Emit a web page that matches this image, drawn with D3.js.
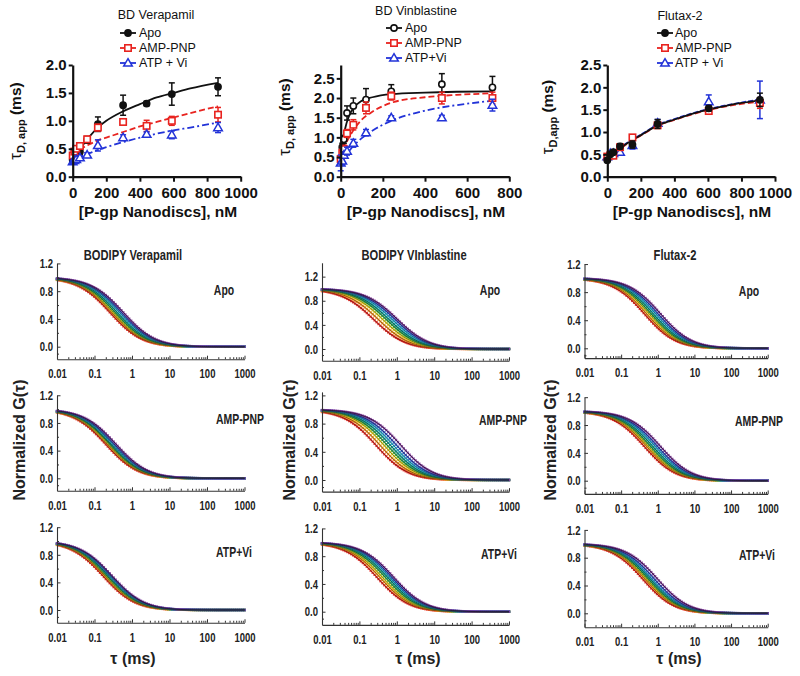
<!DOCTYPE html>
<html><head><meta charset="utf-8">
<script src="https://cdn.jsdelivr.net/npm/d3@7"></script>
<style>body{margin:0;background:#fff}svg{display:block}</style>
</head><body>
<svg id="c" width="800" height="676"></svg>
<script>
// ---------------- DATA: top binding panels ----------------
const verConc   = [0, 10, 21, 43, 86, 150, 300, 440, 590, 865];
const verApo    = [0.30, 0.34, 0.38, 0.45, 0.66, 0.94, 1.28, 1.31, 1.48, 1.61];
const verApoErr = [0.03, 0.03, 0.04, 0.05, 0.06, 0.13, 0.18, 0.04, 0.20, 0.16];
const verAmp    = [0.38, 0.45, 0.50, 0.55, 0.67, 0.88, 0.98, 0.91, 1.00, 1.11];
const verAmpErr = [0.03, 0.03, 0.04, 0.04, 0.05, 0.06, 0.05, 0.10, 0.08, 0.13];
const verAtp    = [0.27, 0.29, 0.31, 0.34, 0.39, 0.56, 0.70, 0.76, 0.75, 0.88];
const verAtpErr = [0.02, 0.03, 0.03, 0.03, 0.04, 0.10, 0.05, 0.04, 0.07, 0.09];
const verFitX   = [0, 50, 100, 150, 200, 300, 400, 500, 600, 700, 865];
const verApoFit = [0.30, 0.52, 0.72, 0.88, 1.00, 1.17, 1.30, 1.42, 1.50, 1.58, 1.68];
const verAmpFit = [0.38, 0.50, 0.58, 0.65, 0.70, 0.80, 0.90, 0.98, 1.06, 1.14, 1.26];
const verAtpFit = [0.27, 0.36, 0.42, 0.48, 0.53, 0.62, 0.70, 0.77, 0.83, 0.88, 0.97];

const vinConc   = [0, 7.5, 15, 30, 60, 120, 240, 480, 720];
const vinApo    = [0.45, 0.75, 0.95, 1.62, 1.80, 1.96, 2.17, 2.35, 2.27];
const vinApoErr = [0.05, 0.10, 0.10, 0.18, 0.20, 0.28, 0.17, 0.27, 0.28];
const vinAmp    = [0.45, 0.60, 0.70, 1.10, 1.32, 1.75, 2.05, 2.00, 2.00];
const vinAmpErr = [0.05, 0.10, 0.10, 0.10, 0.13, 0.15, 0.10, 0.15, 0.15];
const vinAtp    = [0.35, 0.40, 0.55, 0.65, 0.85, 1.12, 1.50, 1.50, 1.82];
const vinAtpErr = [0.20, 0.10, 0.08, 0.10, 0.10, 0.08, 0.05, 0.06, 0.15];
const vinFitX   = [0, 10, 20, 40, 60, 100, 150, 240, 400, 550, 720];
const vinApoFit = [0.45, 0.90, 1.20, 1.55, 1.74, 1.93, 2.02, 2.10, 2.14, 2.16, 2.17];
const vinAmpFit = [0.45, 0.62, 0.78, 1.00, 1.18, 1.45, 1.65, 1.88, 2.02, 2.08, 2.12];
const vinAtpFit = [0.35, 0.42, 0.50, 0.65, 0.78, 0.98, 1.17, 1.42, 1.68, 1.82, 1.93];

const fluConc   = [0, 18, 36, 76, 150, 300, 605, 910];
const fluApo    = [0.37, 0.50, 0.55, 0.68, 0.72, 1.18, 1.53, 1.72];
const fluApoErr = [0.03, 0.03, 0.04, 0.06, 0.08, 0.10, 0.06, 0.15];
const fluAmp    = [0.45, 0.48, 0.47, 0.66, 0.88, 1.15, 1.47, 1.65];
const fluAmpErr = [0.05, 0.05, 0.04, 0.05, 0.06, 0.06, 0.05, 0.12];
const fluAtp    = [0.45, 0.52, 0.52, 0.55, 0.70, 1.20, 1.68, 1.72];
const fluAtpErr = [0.05, 0.05, 0.05, 0.05, 0.08, 0.08, 0.15, 0.42];
const fluFitX   = [0, 50, 100, 150, 200, 300, 400, 500, 600, 700, 800, 910];
const fluApoFit = [0.42, 0.58, 0.70, 0.82, 0.93, 1.15, 1.28, 1.40, 1.50, 1.58, 1.65, 1.71];
const fluAmpFit = [0.42, 0.57, 0.69, 0.81, 0.92, 1.14, 1.27, 1.39, 1.49, 1.57, 1.63, 1.68];
const fluAtpFit = [0.42, 0.58, 0.71, 0.83, 0.94, 1.16, 1.29, 1.41, 1.51, 1.59, 1.66, 1.73];

const verLegend = ["Apo", "AMP-PNP", "ATP + Vi"];
const vinLegend = ["Apo", "AMP-PNP", "ATP+Vi"];
const fluLegend = ["Apo", "AMP-PNP", "ATP + Vi"];
const topTitles = ["BD Verapamil", "BD Vinblastine", "Flutax-2"];

// ---------------- DATA: FCS panels (diffusion times, ms, fast -> slow) ----------------
const fcsColTitles = ["BODIPY Verapamil", "BODIPY VInblastine", "Flutax-2"];
const fcsRowLabels = ["Apo", "AMP-PNP", "ATP+Vi"];
const tauVerApo = [0.26, 0.29, 0.32, 0.36, 0.41, 0.47, 0.53, 0.60];
const tauVerAmp = [0.20, 0.22, 0.24, 0.26, 0.28, 0.31, 0.34, 0.38];
const tauVerAtp = [0.17, 0.19, 0.20, 0.22, 0.24, 0.26, 0.28, 0.30];
const tauVinApo = [0.24, 0.32, 0.42, 0.52, 0.62, 0.75, 0.90, 1.05];
const tauVinAmp = [0.28, 0.36, 0.46, 0.56, 0.68, 0.82, 1.00, 1.30];
const tauVinAtp = [0.30, 0.36, 0.42, 0.50, 0.58, 0.66, 0.75, 0.85];
const tauFluApo = [0.43, 0.50, 0.58, 0.66, 0.76, 0.88, 1.02, 1.20];
const tauFluAmp = [0.43, 0.50, 0.56, 0.64, 0.74, 0.86, 1.00, 1.20];
const tauFluAtp = [0.39, 0.45, 0.50, 0.56, 0.63, 0.70, 0.82, 1.00];
const fcsXTicks = [0.01, 0.1, 1, 10, 100, 1000];
const fcsYTicks = [0, 0.4, 0.8, 1.2];

// ---------------- styles / layout ----------------
const FONT = "'Liberation Sans', Arial, Helvetica, sans-serif";
const SQ = 0.72; // horizontal squeeze for the condensed lettering of the lower panels
const BLACK = "#111", RED = "#e8231f", BLUE = "#2233d8";
const fcsColors = ["#e5261f", "#ef8c1b", "#e3d11e", "#33a647", "#14998a", "#2bb2d9", "#3150c0", "#83389b"];

const svg = d3.select("#c");

function drawMarker(g, type, cx, cy, color, filled) {
  if (type === "circle") {
    g.append("circle").attr("cx", cx).attr("cy", cy).attr("r", 3.1)
      .attr("fill", filled ? color : "#fff").attr("stroke", color).attr("stroke-width", 1.6);
  } else if (type === "square") {
    g.append("rect").attr("x", cx - 3.2).attr("y", cy - 3.2).attr("width", 6.4).attr("height", 6.4)
      .attr("fill", "#fff").attr("stroke", color).attr("stroke-width", 1.6);
  } else {
    g.append("path").attr("transform", `translate(${cx},${cy + 0.6})`)
      .attr("d", d3.symbol().type(d3.symbolTriangle).size(32)())
      .attr("fill", "#fff").attr("stroke", color).attr("stroke-width", 1.5);
  }
}

function topPanel(cfg) {
  const g = svg.append("g");
  const x = d3.scaleLinear().domain([0, cfg.xmax]).range(cfg.xr);
  const y = d3.scaleLinear().domain([0, cfg.ymax]).range(cfg.yr);
  const drawOrder = cfg.drawOrder || cfg.series.map((d, i) => i);

  // fits
  drawOrder.forEach(k => {
    const s = cfg.series[k];
    const line = d3.line().x((d, i) => x(s.fitX[i])).y(d => y(d)).curve(d3.curveMonotoneX);
    g.append("path").attr("d", line(s.fit)).attr("fill", "none").attr("stroke", s.color)
      .attr("stroke-width", 1.8).attr("stroke-dasharray", s.dash || null);
  });
  // error bars + markers
  drawOrder.forEach(k => {
    const s = cfg.series[k];
    s.vals.forEach((v, i) => {
      const cx = x(s.conc[i]), e = s.err[i];
      g.append("line").attr("x1", cx).attr("x2", cx).attr("y1", y(v - e)).attr("y2", y(v + e))
        .attr("stroke", s.color).attr("stroke-width", 1.5);
      [v - e, v + e].forEach(vv => g.append("line").attr("x1", cx - 3).attr("x2", cx + 3)
        .attr("y1", y(vv)).attr("y2", y(vv)).attr("stroke", s.color).attr("stroke-width", 1.5));
      drawMarker(g, s.marker, cx, y(v), s.color, s.filled);
    });
  });

  // axes
  const ax = g.append("g").attr("transform", `translate(0,${cfg.yr[0]})`)
    .call(d3.axisBottom(x).tickValues(cfg.xTicks).tickSize(5).tickSizeOuter(0).tickPadding(5.5).tickFormat(d3.format("d")));
  const ay = g.append("g").attr("transform", `translate(${cfg.xr[0]},0)`)
    .call(d3.axisLeft(y).tickValues(cfg.yTicks).tickSize(4).tickSizeOuter(0).tickPadding(2).tickFormat(d3.format(".1f")));
  [ax, ay].forEach(a => {
    a.select(".domain").attr("stroke", BLACK).attr("stroke-width", 2.2);
    a.selectAll(".tick line").attr("stroke", BLACK).attr("stroke-width", 2);
    a.selectAll("text").attr("font-family", FONT).attr("font-size", 15).attr("font-weight", "bold").attr("fill", BLACK);
  });

  // x title
  g.append("text").attr("x", cfg.xTitleX).attr("y", 217).attr("text-anchor", "middle")
    .attr("font-family", FONT).attr("font-size", 15.5).attr("font-weight", "bold").attr("fill", BLACK)
    .text("[P-gp Nanodiscs], nM");
  // y title
  const yt = g.append("text").attr("transform", `translate(${cfg.yTitleX},${cfg.yTitleY}) rotate(-90)`)
    .attr("text-anchor", "middle").attr("font-family", FONT).attr("fill", BLACK);
  yt.append("tspan").attr("font-size", 17).text("\u03C4");
  yt.append("tspan").attr("font-size", 11).attr("font-weight", "bold").attr("dy", 4).text(cfg.sub);
  yt.append("tspan").attr("font-size", 15.5).attr("font-weight", "bold").attr("dy", -4).text(" (ms)");

  // legend
  g.append("text").attr("x", cfg.leg.titleX).attr("y", cfg.leg.titleY).attr("text-anchor", "middle")
    .attr("font-family", FONT).attr("font-size", 12.5).attr("fill", BLACK).text(cfg.leg.title);
  cfg.series.forEach((s, i) => {
    const ly = cfg.leg.ys[i];
    g.append("line").attr("x1", cfg.leg.mx - 8).attr("x2", cfg.leg.mx + 8).attr("y1", ly - 4).attr("y2", ly - 4)
      .attr("stroke", s.color).attr("stroke-width", 1.8);
    drawMarker(g, s.marker, cfg.leg.mx, ly - 4, s.color, s.legFilled);
    g.append("text").attr("x", cfg.leg.tx).attr("y", ly).attr("font-family", FONT).attr("font-size", 12.5)
      .attr("fill", BLACK).text(cfg.leg.labels[i]);
  });
}

topPanel({
  xr: [72.7, 240.7], xmax: 1000, yr: [176.7, 65], ymax: 2.0,
  xTicks: [0, 200, 400, 600, 800, 1000], yTicks: [0, 0.5, 1.0, 1.5, 2.0],
  xTitleX: 158, yTitleX: 21, yTitleY: 121, sub: "D, app",
  leg: { title: topTitles[0], titleX: 156, titleY: 19, mx: 128, tx: 139, ys: [37, 52, 67], labels: verLegend },
  series: [
    { conc: verConc, vals: verApo, err: verApoErr, fitX: verFitX, fit: verApoFit, color: BLACK, marker: "circle", filled: true, legFilled: true },
    { conc: verConc, vals: verAmp, err: verAmpErr, fitX: verFitX, fit: verAmpFit, color: RED, marker: "square", dash: "6,3" },
    { conc: verConc, vals: verAtp, err: verAtpErr, fitX: verFitX, fit: verAtpFit, color: BLUE, marker: "triangle", dash: "7,3,2,3" }
  ]
});
topPanel({
  xr: [340.7, 509.3], xmax: 800, yr: [176.7, 65], ymax: 2.84,
  xTicks: [0, 200, 400, 600, 800], yTicks: [0, 0.5, 1.0, 1.5, 2.0, 2.5],
  xTitleX: 426, yTitleX: 290, yTitleY: 117, sub: "D, app",
  leg: { title: topTitles[1], titleX: 416, titleY: 15, mx: 394, tx: 405, ys: [32, 47, 62], labels: vinLegend },
  series: [
    { conc: vinConc, vals: vinApo, err: vinApoErr, fitX: vinFitX, fit: vinApoFit, color: BLACK, marker: "circle", filled: false, legFilled: false },
    { conc: vinConc, vals: vinAmp, err: vinAmpErr, fitX: vinFitX, fit: vinAmpFit, color: RED, marker: "square", dash: "6,3" },
    { conc: vinConc, vals: vinAtp, err: vinAtpErr, fitX: vinFitX, fit: vinAtpFit, color: BLUE, marker: "triangle", dash: "7,3,2,3" }
  ]
});
topPanel({
  xr: [607.3, 775], xmax: 1000, yr: [176.7, 65], ymax: 2.5,
  xTicks: [0, 200, 400, 600, 800, 1000], yTicks: [0, 0.5, 1.0, 1.5, 2.0, 2.5],
  xTitleX: 692, yTitleX: 553, yTitleY: 117, sub: "D,app",
  leg: { title: topTitles[2], titleX: 680, titleY: 20, mx: 665, tx: 675, ys: [37, 52, 67], labels: fluLegend },
  drawOrder: [2, 1, 0],
  series: [
    { conc: fluConc, vals: fluApo, err: fluApoErr, fitX: fluFitX, fit: fluApoFit, color: BLACK, marker: "circle", filled: true, legFilled: true },
    { conc: fluConc, vals: fluAmp, err: fluAmpErr, fitX: fluFitX, fit: fluAmpFit, color: RED, marker: "square", dash: "6,3" },
    { conc: fluConc, vals: fluAtp, err: fluAtpErr, fitX: fluFitX, fit: fluAtpFit, color: BLUE, marker: "triangle", dash: "5,2" }
  ]
});

// ---------------- FCS panels ----------------
const colX = [[57, 244.5], [322, 509], [584.5, 767.7]];
const panelY = [
  [{ zero: 346.7, ppu: 69.4, ymin: -0.18, ymax: 1.2 }, { zero: 478.3, ppu: 69.2, ymin: -0.18, ymax: 1.2 }, { zero: 610, ppu: 69, ymin: -0.185, ymax: 1.2 }],
  [{ zero: 349, ppu: 60.3, ymin: -0.195, ymax: 1.43 }, { zero: 480, ppu: 70.5, ymin: -0.165, ymax: 1.25 }, { zero: 611.7, ppu: 69.4, ymin: -0.19, ymax: 1.2 }],
  [{ zero: 348.3, ppu: 70.2, ymin: -0.14, ymax: 1.2 }, { zero: 480.7, ppu: 69.6, ymin: -0.19, ymax: 1.2 }, { zero: 613.3, ppu: 69.5, ymin: -0.2, ymax: 1.2 }]
];
const rowLabelPos = [
  [[224, 295], [240, 424], [234, 557]],
  [[490, 295], [503, 425], [499, 559]],
  [[749, 296], [759, 426], [757, 560]]
];
const fcsTaus = [[tauVerApo, tauVerAmp, tauVerAtp], [tauVinApo, tauVinAmp, tauVinAtp], [tauFluApo, tauFluAmp, tauFluAtp]];
const tauGrid = d3.range(0, 97).map(k => 0.01 * Math.pow(10, k / 19.2));
// 3D diffusion fit model, structure parameter 5
const G = (t, td) => 1 / ((1 + t / td) * Math.sqrt(1 + t / (25 * td)));

function squeezeText(sel) {
  sel.attr("font-family", FONT).attr("font-weight", "bold").attr("fill", "#222")
    .attr("transform", `scale(${SQ},1)`);
}
function labelText(x, y, size, str) {
  return svg.append("text").attr("transform", `translate(${x},${y}) scale(${SQ},1)`).attr("text-anchor", "middle")
    .attr("font-family", FONT).attr("font-size", size).attr("font-weight", "bold").attr("fill", "#222").text(str);
}

function fcsPanel(col, row) {
  const g = svg.append("g");
  const p = panelY[col][row];
  const x = d3.scaleLog().domain([0.01, 1000]).range(colX[col]);
  const y = d3.scaleLinear().domain([p.ymin, p.ymax]).range([p.zero - p.ymin * p.ppu, p.zero - p.ymax * p.ppu]);
  const taus = fcsTaus[col][row];

  // measured-point band along each curve
  taus.forEach((td, i) => {
    g.append("g").selectAll("rect").data(tauGrid).join("rect")
      .attr("x", t => x(t) - 1.2).attr("y", t => y(G(t, td)) - 1.2).attr("width", 2.4).attr("height", 2.4)
      .attr("fill", fcsColors[i]).attr("opacity", 0.9);
  });
  // fit lines
  const line = d3.line();
  taus.forEach((td, i) => {
    g.append("path").attr("d", line(tauGrid.map(t => [x(t), y(G(t, td))])))
      .attr("fill", "none").attr("stroke", d3.color(fcsColors[i]).darker(i === taus.length - 1 ? 3 : 1.6))
      .attr("stroke-width", 0.9);
  });

  const base = y(p.ymin);
  const ax = g.append("g").attr("transform", `translate(0,${base})`)
    .call(d3.axisBottom(x).tickValues(fcsXTicks).tickSize(-3.5).tickSizeOuter(0).tickPadding(9.8).tickFormat(d => String(d)));
  const minors = [];
  fcsXTicks.slice(0, -1).forEach(d => { for (let k = 2; k <= 9; k++) minors.push(d * k); });
  const axm = g.append("g").attr("transform", `translate(0,${base})`)
    .call(d3.axisBottom(x).tickValues(minors).tickSize(-2).tickSizeOuter(0).tickFormat(""));
  axm.select(".domain").remove();
  const ay = g.append("g").attr("transform", `translate(${colX[col][0]},0)`)
    .call(d3.axisLeft(y).tickValues(fcsYTicks).tickSize(-3.5).tickSizeOuter(0).tickPadding(5.5).tickFormat(d3.format(".1f")));
  const aym = g.append("g").attr("transform", `translate(${colX[col][0]},0)`)
    .call(d3.axisLeft(y).tickValues([-0.1, 0.2, 0.6, 1.0]).tickSize(-2).tickSizeOuter(0).tickFormat(""));
  aym.select(".domain").remove();
  [ax, axm, ay, aym].forEach(a => {
    a.select(".domain").attr("stroke", "#333").attr("stroke-width", 1.1);
    a.selectAll(".tick line").attr("stroke", "#333").attr("stroke-width", 1);
    a.selectAll("text").attr("font-size", 13.2).call(squeezeText);
  });

  labelText(rowLabelPos[col][row][0], rowLabelPos[col][row][1], 14.5, fcsRowLabels[row]);
}
for (let c = 0; c < 3; c++) for (let r = 0; r < 3; r++) fcsPanel(c, r);

// column titles
const colTitleX = [133, 414, 675];
fcsColTitles.forEach((t, i) => labelText(colTitleX[i], 260, 15.5, t));
// x titles
const tauTitleX = [133, 418, 679];
tauTitleX.forEach(xx => svg.append("text").attr("x", xx).attr("y", 664).attr("text-anchor", "middle")
  .attr("font-family", FONT).attr("font-size", 16).attr("font-weight", "bold").attr("fill", "#222")
  .text("\u03C4  (ms)"));
// y titles
const gTitleX = [25, 295, 556];
gTitleX.forEach(xx => svg.append("text").attr("transform", `translate(${xx},440) rotate(-90)`).attr("text-anchor", "middle")
  .attr("font-family", FONT).attr("font-size", 16).attr("font-weight", "bold").attr("fill", "#222")
  .text("Normalized G(\u03C4)"));
</script>
</body></html>
